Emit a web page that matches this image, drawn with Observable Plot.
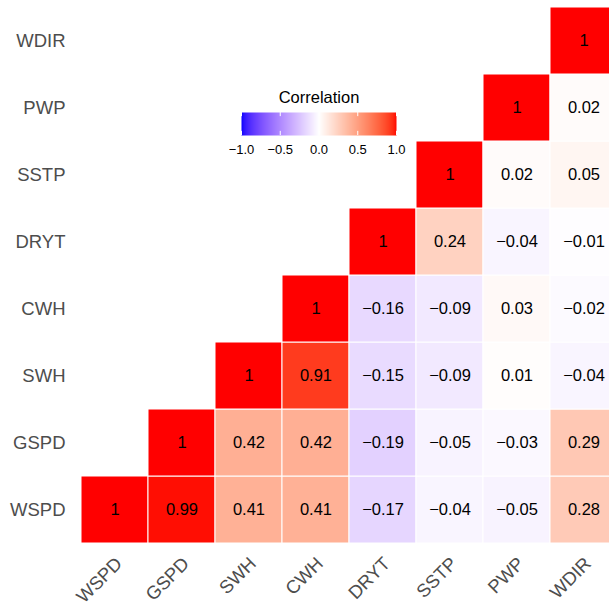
<!DOCTYPE html>
<html>
<head>
<meta charset="utf-8">
<script src="https://cdn.jsdelivr.net/npm/d3@7"></script>
<script src="https://cdn.jsdelivr.net/npm/@observablehq/plot@0.6"></script>
<style>
  html, body { margin: 0; padding: 0; background: #fff; }
  #wrap { position: relative; width: 609px; height: 610px; overflow: hidden; }
  #wrap > div { position: absolute; left: 0; top: 0; }
  #legend { pointer-events: none; }
</style>
</head>
<body>
<div id="wrap"><div id="main"></div><div id="legend"></div></div>
<script>
// Variables (x order left→right, y order bottom→top)
const vars = ["WSPD", "GSPD", "SWH", "CWH", "DRYT", "SSTP", "PWP", "WDIR"];

// Correlations of each column variable with the variables from WSPD upward (lower triangle)
const corWSPD = [1];
const corGSPD = [0.99, 1];
const corSWH  = [0.41, 0.42, 1];
const corCWH  = [0.41, 0.42, 0.91, 1];
const corDRYT = [-0.17, -0.19, -0.15, -0.16, 1];
const corSSTP = [-0.04, -0.05, -0.09, -0.09, 0.24, 1];
const corPWP  = [-0.05, -0.03, 0.01, 0.03, -0.04, 0.02, 1];
const corWDIR = [0.28, 0.29, -0.04, -0.02, -0.01, 0.05, 0.02, 1];

const legendTicks = [-1, -0.5, 0, 0.5, 1];
const legendTitle = "Correlation";

const columns = [corWSPD, corGSPD, corSWH, corCWH, corDRYT, corSSTP, corPWP, corWDIR];
const cells = [];
columns.forEach((col, j) => col.forEach((v, i) => cells.push({x: vars[j], y: vars[i], value: v})));

const fmtCell = v => (Math.round(v * 100) / 100).toString().replace("-", "\u2212");
const fmtTick = v => v.toFixed(1).replace("-", "\u2212");

const colorScale = {
  type: "linear",
  domain: [-1, 0, 1],
  range: ["#0000FF", "#FFFFFF", "#FF0000"],
  interpolate: "lab",
  clamp: true
};

const font = "'Liberation Sans', Arial, Helvetica, sans-serif";

const main = Plot.plot({
  width: 609,
  height: 610,
  marginLeft: 80.5,
  marginRight: -8,
  marginTop: 6,
  marginBottom: 67,
  style: {fontFamily: font, color: "#4D4D4D", background: "white", overflow: "visible"},
  x: {domain: vars, padding: 0, axis: null, label: null},
  y: {domain: [...vars].reverse(), padding: 0, axis: null, label: null},
  color: colorScale,
  marks: [
    Plot.cell(cells, {x: "x", y: "y", fill: "value", stroke: "white", strokeWidth: 1}),
    Plot.text(cells, {x: "x", y: "y", text: d => fmtCell(d.value), fill: "black", fontSize: 16.5}),
    Plot.axisY({tickSize: 0, tickPadding: 15.5, fontSize: 18.5, fill: "#4D4D4D", label: null}),
    Plot.text(vars, {x: d => d, frameAnchor: "bottom", rotate: -45, textAnchor: "end", lineAnchor: "top",
      dx: -1, dy: 12, fontSize: 18.5, fill: "#4D4D4D"})
  ]
});
document.getElementById("main").appendChild(main);

const legend = Plot.plot({
  width: 609,
  height: 170,
  margin: 0,
  style: {fontFamily: font, background: "transparent", overflow: "visible"},
  x: {type: "linear", domain: [-1, 1], range: [241, 396], axis: null},
  y: {type: "linear", domain: [0, 1], range: [135, 112], axis: null},
  color: colorScale,
  marks: [
    Plot.raster({x1: -1, x2: 1, y1: 0, y2: 1, fill: (x, y) => x, width: 155, height: 1, imageRendering: "auto"}),
    Plot.ruleX(legendTicks, {x: d => d, y1: 0, y2: 0.18, stroke: "white", strokeWidth: 1}),
    Plot.ruleX(legendTicks, {x: d => d, y1: 0.82, y2: 1, stroke: "white", strokeWidth: 1}),
    Plot.text(legendTicks, {x: d => d, y: 0, dy: 14, text: fmtTick, fontSize: 13, fill: "black"}),
    Plot.text([legendTitle], {x: 0, y: 1, dy: -15, text: d => d, fontSize: 16.5, fill: "black"})
  ]
});
document.getElementById("legend").appendChild(legend);
</script>
</body>
</html>
